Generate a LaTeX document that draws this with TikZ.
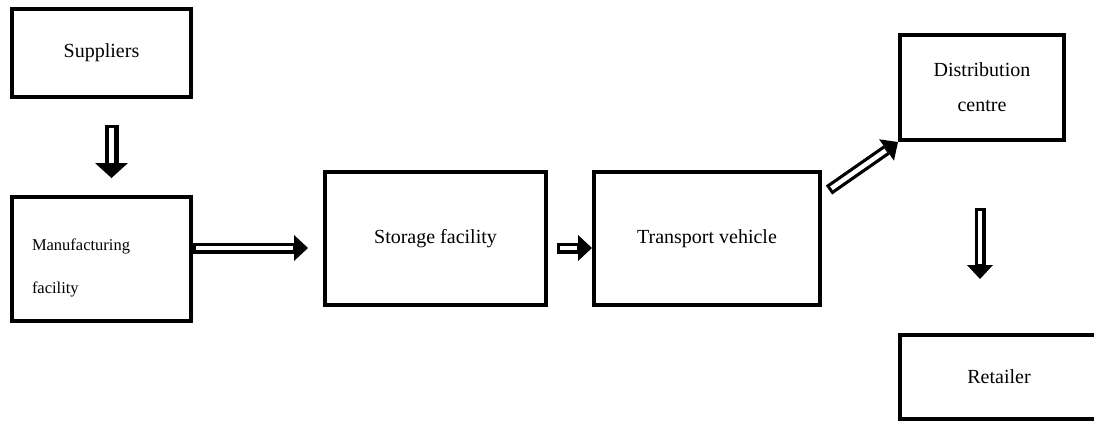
\documentclass[tikz,border=0pt]{standalone}
\usepackage{fontspec}
\setmainfont{Liberation Serif}
\usetikzlibrary{arrows.meta, positioning}

\begin{document}
\begin{tikzpicture}[x=1pt, y=-1pt,
  stage/.style={draw, line width=4pt, align=center, font=\fontsize{20}{23}\selectfont},
  flow/.style={line width=11pt, -{Triangle[length=14pt, width=26pt, line width=0pt]},
    postaction={draw=white, line width=4.5pt, shorten >=15pt, shorten <=3pt, -}}
]
\path[use as bounding box, clip] (0,0) rectangle (1094,423);

\node[stage, minimum width=179pt, minimum height=88pt] (sup) at (101.5,53) {Suppliers};
\node[stage, minimum width=179pt, minimum height=124pt, align=left, text width=139pt,
      inner xsep=20pt, font=\fontsize{16.5}{19}\selectfont] (manuf) at (101.5,259)
      {\rule{0pt}{30pt}Manufacturing\\[24pt]facility};
\node[stage, minimum width=221pt, minimum height=133pt] (store) at (435.5,238.5) {Storage facility};
\node[stage, minimum width=226pt, minimum height=133pt] (trans) at (707,238.5) {Transport vehicle};
\node[stage, minimum width=164pt, minimum height=105pt] (dist) at (982,87.5) {Distribution\\[12pt]centre};
\node[stage, minimum width=198pt, minimum height=84pt] (ret) at (999,377) {Retailer};

\draw[flow, line width=14pt, -{Triangle[length=15pt, width=33pt, line width=0pt]}]
  ([xshift=10pt, yshift=-26pt]sup.south) -- ([xshift=10pt, yshift=17pt]manuf.north);
\draw[flow] ([yshift=11pt]manuf.east) -- ([xshift=-15pt, yshift=-9.5pt]store.west);
\draw[flow] ([xshift=9pt, yshift=-9.5pt]store.east) -- ([yshift=-9.5pt]trans.west);
\draw[flow] ([xshift=7pt, yshift=-20pt]trans.north east) -- (dist.south west);
\draw[flow] ([xshift=-2pt, yshift=-66pt]dist.south) -- ([xshift=-19pt, yshift=54pt]ret.north);
\end{tikzpicture}
\end{document}
